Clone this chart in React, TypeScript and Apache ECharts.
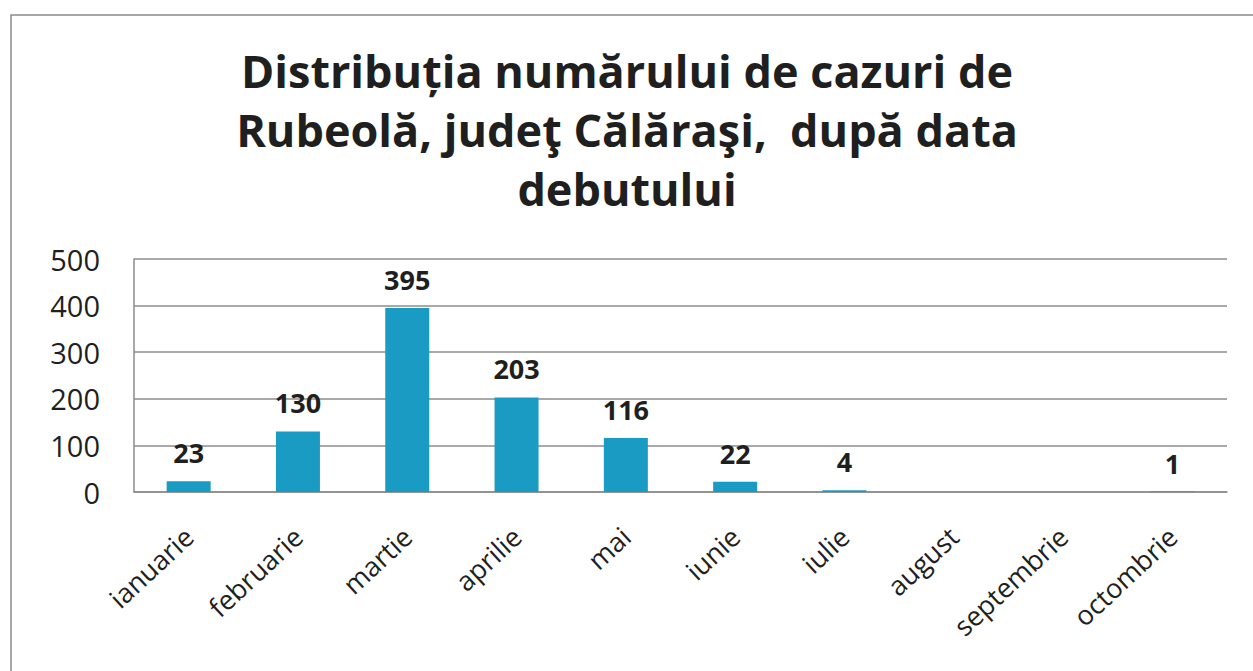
import React, { useEffect, useRef } from "react";
import * as echarts from "echarts";

const titleLines = [
  "Distribuția numărului de cazuri de",
  "Rubeolă, judeţ Călăraşi,  după data",
  "debutului",
];
const months = [
  "ianuarie",
  "februarie",
  "martie",
  "aprilie",
  "mai",
  "iunie",
  "iulie",
  "august",
  "septembrie",
  "octombrie",
];
const cases: (number | null)[] = [23, 130, 395, 203, 116, 22, 4, null, null, 1];
const yTicks = { min: 0, max: 500, interval: 100 };

const FONT = "'Open Sans', Lato, sans-serif";

export default function App() {
  const ref = useRef<HTMLDivElement>(null);
  useEffect(() => {
    if (!ref.current) return;
    const chart = echarts.init(ref.current, null, { renderer: "svg" });
    chart.setOption({
      animation: false,
      backgroundColor: "#ffffff",
      title: {
        text: titleLines.join("\n"),
        left: 622,
        top: 36,
        textAlign: "center",
        textStyle: {
          fontFamily: FONT,
          fontWeight: "bold",
          fontSize: 45,
          lineHeight: 59,
          color: "#1f1f1f",
        },
      },
      graphic: [
        {
          type: "rect",
          shape: { x: 11, y: 15, width: 1270, height: 700 },
          style: { fill: "none", stroke: "#8a8a8a", lineWidth: 1.5 },
          silent: true,
        },
      ],
      grid: { left: 134, right: 26, top: 259, bottom: 179, containLabel: false },
      xAxis: {
        type: "category",
        data: months,
        axisLine: { show: true, lineStyle: { color: "#8c8c8c", width: 1.5 } },
        axisTick: { show: false },
        axisLabel: {
          rotate: 43,
          margin: 40,
          interval: 0,
          fontFamily: FONT,
          fontSize: 27,
          color: "#1f1f1f",
        },
      },
      yAxis: {
        type: "value",
        min: yTicks.min,
        max: yTicks.max,
        interval: yTicks.interval,
        axisLine: { show: true, lineStyle: { color: "#8c8c8c", width: 1.5 } },
        axisTick: { show: false },
        splitLine: { show: true, lineStyle: { color: "#8c8c8c", width: 1.5 } },
        axisLabel: {
          margin: 34,
          fontFamily: FONT,
          fontSize: 29,
          color: "#1f1f1f",
        },
      },
      series: [
        {
          type: "bar",
          data: cases,
          barWidth: 44,
          itemStyle: { color: "#1a9bc4" },
          label: {
            show: true,
            position: "top",
            distance: 15,
            fontFamily: FONT,
            fontWeight: "bold",
            fontSize: 27,
            color: "#1f1f1f",
          },
        },
      ],
    });
    return () => chart.dispose();
  }, []);
  return (
    <div
      ref={ref}
      style={{ position: "fixed", left: 0, top: 0, width: 1253, height: 671 }}
    />
  );
}
